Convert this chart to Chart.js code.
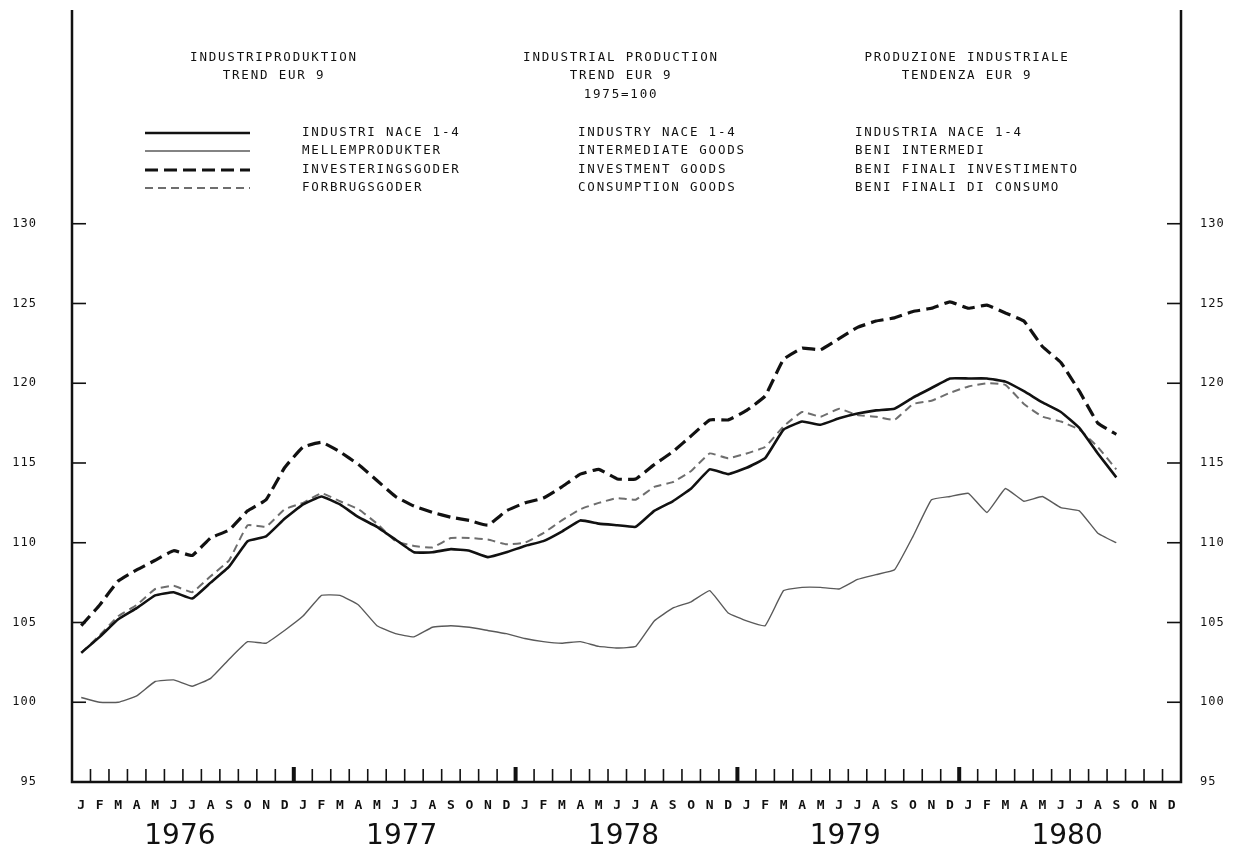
<!DOCTYPE html>
<html>
<head>
<meta charset="utf-8">
<script src="https://cdn.jsdelivr.net/npm/chart.js@4.4.1/dist/chart.umd.min.js"></script>
<style>
  html, body { margin: 0; padding: 0; background: #ffffff; }
  #wrap { width: 1245px; height: 852px; position: relative; }
</style>
</head>
<body>
<div id="wrap"><canvas id="c" width="1245" height="852"></canvas></div>
<script>
// ---- Data ----
const MONTHS = [
  "J","F","M","A","M","J","J","A","S","O","N","D",
  "J","F","M","A","M","J","J","A","S","O","N","D",
  "J","F","M","A","M","J","J","A","S","O","N","D",
  "J","F","M","A","M","J","J","A","S","O","N","D",
  "J","F","M","A","M","J","J","A","S","O","N","D"
];
const YEARS = ["1976","1977","1978","1979","1980"];
const Y_TICKS = [95,100,105,110,115,120,125,130];

const industry = [103.1,104.1,105.2,105.9,106.7,106.9,106.5,107.5,108.5,110.1,110.4,111.5,
  112.4,112.9,112.4,111.6,111.0,110.2,109.4,109.4,109.6,109.5,109.1,109.4,
  109.8,110.1,110.7,111.4,111.2,111.1,111.0,112.0,112.6,113.4,114.6,114.3,
  114.7,115.3,117.1,117.6,117.4,117.8,118.1,118.3,118.4,119.1,119.7,120.3,
  120.3,120.3,120.1,119.5,118.8,118.2,117.2,115.6,114.1];
const intermediate = [100.3,100.0,100.0,100.4,101.3,101.4,101.0,101.5,102.7,103.8,103.7,104.5,
  105.4,106.7,106.7,106.1,104.8,104.3,104.1,104.7,104.8,104.7,104.5,104.3,
  104.0,103.8,103.7,103.8,103.5,103.4,103.5,105.1,105.9,106.3,107.0,105.6,
  105.1,104.8,107.0,107.2,107.2,107.1,107.7,108.0,108.3,110.4,112.7,112.9,
  113.1,111.9,113.4,112.6,112.9,112.2,112.0,110.6,110.0];
const investment = [104.8,106.1,107.6,108.3,108.9,109.5,109.2,110.3,110.8,112.0,112.7,114.7,
  116.0,116.3,115.7,114.9,113.9,112.9,112.3,111.9,111.6,111.4,111.1,112.0,
  112.5,112.8,113.5,114.3,114.6,114.0,114.0,114.9,115.7,116.7,117.7,117.7,
  118.3,119.2,121.5,122.2,122.1,122.8,123.5,123.9,124.1,124.5,124.7,125.1,
  124.7,124.9,124.4,123.9,122.3,121.3,119.5,117.5,116.8];
const consumption = [103.1,104.2,105.4,106.1,107.1,107.3,106.9,107.9,108.9,111.1,111.0,112.1,
  112.5,113.1,112.6,112.1,111.2,110.1,109.8,109.7,110.3,110.3,110.2,109.9,
  110.0,110.6,111.4,112.1,112.5,112.8,112.7,113.5,113.8,114.5,115.6,115.3,
  115.6,116.0,117.3,118.2,117.9,118.4,118.0,117.9,117.7,118.7,118.9,119.4,
  119.8,120.0,119.9,118.7,117.9,117.6,117.1,116.0,114.6];

const TITLES = [
  { x: 273, lines: ["INDUSTRIPRODUKTION", "TREND EUR 9"] },
  { x: 620, lines: ["INDUSTRIAL PRODUCTION", "TREND EUR 9", "1975=100"] },
  { x: 966, lines: ["PRODUZIONE INDUSTRIALE", "TENDENZA EUR 9"] }
];
const LEGEND_DA = ["INDUSTRI NACE 1-4","MELLEMPRODUKTER","INVESTERINGSGODER","FORBRUGSGODER"];
const LEGEND_EN = ["INDUSTRY NACE 1-4","INTERMEDIATE GOODS","INVESTMENT GOODS","CONSUMPTION GOODS"];
const LEGEND_IT = ["INDUSTRIA NACE 1-4","BENI INTERMEDI","BENI FINALI INVESTIMENTO","BENI FINALI DI CONSUMO"];

// ---- Styles ----
const STYLES = [
  { color: "#111111", width: 2.6, dash: [] },
  { color: "#5a5a5a", width: 1.4, dash: [] },
  { color: "#111111", width: 3.2, dash: [13, 6] },
  { color: "#6e6e6e", width: 2.0, dash: [8, 5] }
];

const framePlugin = {
  id: "frame",
  afterDraw(chart) {
    const ctx = chart.ctx;
    const a = chart.chartArea;
    const xs = chart.scales.x, ys = chart.scales.y;
    ctx.save();
    ctx.strokeStyle = "#111";
    ctx.fillStyle = "#111";
    ctx.lineCap = "butt";
    // frame
    ctx.lineWidth = 2.5;
    ctx.beginPath();
    ctx.moveTo(a.left, a.top); ctx.lineTo(a.left, a.bottom); ctx.lineTo(a.right, a.bottom); ctx.lineTo(a.right, a.top);
    ctx.stroke();
    // bottom ticks at month boundaries
    for (let i = 1; i < MONTHS.length; i++) {
      const x = (xs.getPixelForValue(i - 1) + xs.getPixelForValue(i)) / 2;
      const bold = i % 12 === 0;
      ctx.lineWidth = bold ? 4 : 1.6;
      ctx.beginPath();
      ctx.moveTo(x, a.bottom);
      ctx.lineTo(x, a.bottom - (bold ? 15 : 13));
      ctx.stroke();
    }
    // y ticks inward
    ctx.lineWidth = 1.6;
    Y_TICKS.forEach(v => {
      if (v === Y_TICKS[0]) return;
      const y = ys.getPixelForValue(v);
      ctx.beginPath(); ctx.moveTo(a.left, y); ctx.lineTo(a.left + 14, y); ctx.stroke();
      ctx.beginPath(); ctx.moveTo(a.right, y); ctx.lineTo(a.right - 14, y); ctx.stroke();
    });
    // y labels
    ctx.font = "12px 'DejaVu Sans Mono'";
    ctx.letterSpacing = "1px";
    ctx.textBaseline = "middle";
    Y_TICKS.forEach(v => {
      const y = ys.getPixelForValue(v);
      ctx.textAlign = "right";
      ctx.fillText(String(v), 37, y);
      ctx.textAlign = "left";
      ctx.fillText(String(v), 1200, y);
    });
    // month labels
    ctx.font = "bold 13px 'DejaVu Sans Mono'";
    ctx.letterSpacing = "0px";
    ctx.textAlign = "center";
    MONTHS.forEach((m, i) => {
      ctx.fillText(m, xs.getPixelForValue(i), 806);
    });
    // year labels
    ctx.font = "28px 'DejaVu Sans'";
    YEARS.forEach((yr, k) => {
      const x = (xs.getPixelForValue(12 * k + 5) + xs.getPixelForValue(12 * k + 6)) / 2 - 3;
      ctx.fillText(yr, x, 837);
    });
    // titles
    ctx.font = "500 12.5px 'DejaVu Sans Mono'";
    ctx.letterSpacing = "1.8px";
    ctx.textAlign = "center";
    const rowY = [58, 76, 95];
    TITLES.forEach(t => {
      t.lines.forEach((ln, j) => ctx.fillText(ln, t.x + 1, rowY[j]));
    });
    // legend
    const legY = [133, 151, 170, 188];
    ctx.textAlign = "left";
    for (let j = 0; j < 4; j++) {
      ctx.fillText(LEGEND_DA[j], 302, legY[j]);
      ctx.fillText(LEGEND_EN[j], 578, legY[j]);
      ctx.fillText(LEGEND_IT[j], 855, legY[j]);
      const s = STYLES[j];
      ctx.save();
      ctx.strokeStyle = s.color;
      ctx.lineWidth = s.width;
      ctx.setLineDash(s.dash);
      ctx.beginPath(); ctx.moveTo(145, legY[j]); ctx.lineTo(250, legY[j]); ctx.stroke();
      ctx.restore();
    }
    ctx.restore();
  }
};

function ds(label, data, s) {
  return {
    label, data,
    borderColor: s.color, borderWidth: s.width, borderDash: s.dash,
    pointRadius: 0, fill: false, tension: 0.1, spanGaps: false
  };
}

new Chart(document.getElementById("c"), {
  type: "line",
  data: {
    labels: MONTHS,
    datasets: [
      ds("Industry NACE 1-4", industry, STYLES[0]),
      ds("Intermediate goods", intermediate, STYLES[1]),
      ds("Investment goods", investment, STYLES[2]),
      ds("Consumption goods", consumption, STYLES[3])
    ]
  },
  options: {
    responsive: false,
    animation: false,
    layout: { padding: { left: 72, right: 64, top: 10, bottom: 70 } },
    plugins: { legend: { display: false }, tooltip: { enabled: false }, title: { display: false } },
    scales: {
      x: { type: "category", offset: true, display: false },
      y: { type: "linear", min: 95, max: 143.4, display: false }
    }
  },
  plugins: [framePlugin]
});
</script>
</body>
</html>
